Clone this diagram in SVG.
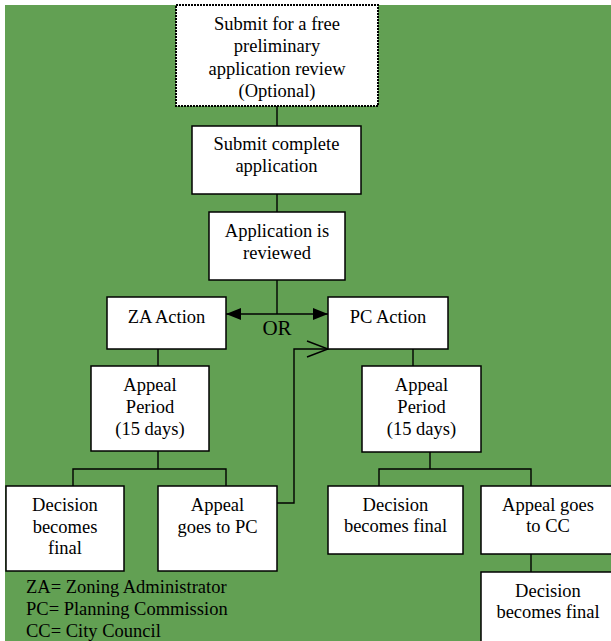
<svg xmlns="http://www.w3.org/2000/svg" width="611" height="641" viewBox="0 0 611 641">
<defs>
<style>
.bg{fill:#62a053}
.box{fill:#fff;stroke:#000;stroke-width:1.5}
.dot{fill:#fff;stroke:#000;stroke-width:2;stroke-dasharray:2 1}
.t{font-size:18.5px;fill:#000;text-anchor:middle}
.l{font-size:18.5px;fill:#000}
.c{fill:none;stroke:#000;stroke-width:1.4}
</style>
<marker id="fa" viewBox="0 0 15 12" refX="15" refY="6" markerWidth="15" markerHeight="12" markerUnits="userSpaceOnUse" orient="auto-start-reverse">
<path d="M0,0 L15,6 L0,12 Z" fill="#000"/>
</marker>
</defs>
<rect x="0" y="0" width="611" height="641" fill="#fff"/>
<rect class="bg" x="5" y="5" width="606" height="636"/>

<g id="connectors">
<line class="c" x1="277" y1="106" x2="277" y2="126"/>
<line class="c" x1="277" y1="194" x2="277" y2="212"/>
<line class="c" x1="277" y1="280" x2="277" y2="314"/>
<line class="c" x1="226" y1="314" x2="328" y2="314" marker-start="url(#fa)" marker-end="url(#fa)"/>
<line class="c" x1="158" y1="349" x2="158" y2="366"/>
<line class="c" x1="413" y1="349" x2="413" y2="366"/>
<polyline class="c" points="158,451 158,469"/>
<polyline class="c" points="73,486 73,469 226,469 226,486"/>
<polyline class="c" points="430,452 430,469"/>
<polyline class="c" points="379,486 379,469 531,469 531,486"/>
<line class="c" x1="531" y1="554" x2="531" y2="572"/>
<polyline class="c" points="277,503 294,503 294,349 328,349"/>
<polyline class="c" points="307,341 328,349 307,357"/>
</g>

<g font-family="'Liberation Serif', Tinos, 'Times New Roman', 'DejaVu Serif', serif">
<g id="n-prelim">
<rect class="dot" x="176" y="5" width="202" height="101"/>
<text class="t" x="277" y="30">Submit for a free</text>
<text class="t" x="277" y="52">preliminary</text>
<text class="t" x="277" y="75">application review</text>
<text class="t" x="277" y="97">(Optional)</text>
</g>
<g id="n-submit">
<rect class="box" x="192" y="126" width="169" height="68"/>
<text class="t" x="276.5" y="150">Submit complete</text>
<text class="t" x="276.5" y="172">application</text>
</g>
<g id="n-reviewed">
<rect class="box" x="209" y="212" width="136" height="68"/>
<text class="t" x="277" y="237">Application is</text>
<text class="t" x="277" y="259">reviewed</text>
</g>
<g id="or-label">
<text class="t" x="277" y="335" style="font-size:21px">OR</text>
</g>
<g id="n-za">
<rect class="box" x="107" y="297" width="119" height="52"/>
<text class="t" x="166.5" y="323">ZA Action</text>
</g>
<g id="n-pc">
<rect class="box" x="328" y="297" width="120" height="52"/>
<text class="t" x="388" y="323">PC Action</text>
</g>
<g id="n-appeal-left">
<rect class="box" x="91" y="366" width="118" height="85"/>
<text class="t" x="150" y="391">Appeal</text>
<text class="t" x="150" y="413">Period</text>
<text class="t" x="150" y="435">(15 days)</text>
</g>
<g id="n-appeal-right">
<rect class="box" x="362" y="366" width="119" height="86"/>
<text class="t" x="421.5" y="391">Appeal</text>
<text class="t" x="421.5" y="413">Period</text>
<text class="t" x="421.5" y="435">(15 days)</text>
</g>
<g id="n-final-za">
<rect class="box" x="6" y="486" width="118" height="85"/>
<text class="t" x="65" y="511">Decision</text>
<text class="t" x="65" y="533">becomes</text>
<text class="t" x="65" y="554">final</text>
</g>
<g id="n-appeal-pc">
<rect class="box" x="158" y="486" width="119" height="85"/>
<text class="t" x="217.5" y="511">Appeal</text>
<text class="t" x="217.5" y="533">goes to PC</text>
</g>
<g id="n-final-pc">
<rect class="box" x="328" y="486" width="135" height="68"/>
<text class="t" x="395.5" y="511">Decision</text>
<text class="t" x="395.5" y="532">becomes final</text>
</g>
<g id="n-appeal-cc">
<rect class="box" x="481" y="486" width="134" height="68"/>
<text class="t" x="548" y="511">Appeal goes</text>
<text class="t" x="548" y="532">to CC</text>
</g>
<g id="n-final-cc">
<rect class="box" x="481" y="572" width="134" height="80"/>
<text class="t" x="548" y="597">Decision</text>
<text class="t" x="548" y="618">becomes final</text>
</g>
<g id="legend">
<text class="l" x="26" y="593">ZA= Zoning Administrator</text>
<text class="l" x="26" y="615">PC= Planning Commission</text>
<text class="l" x="26" y="637">CC= City Council</text>
</g>
</g>
</svg>
